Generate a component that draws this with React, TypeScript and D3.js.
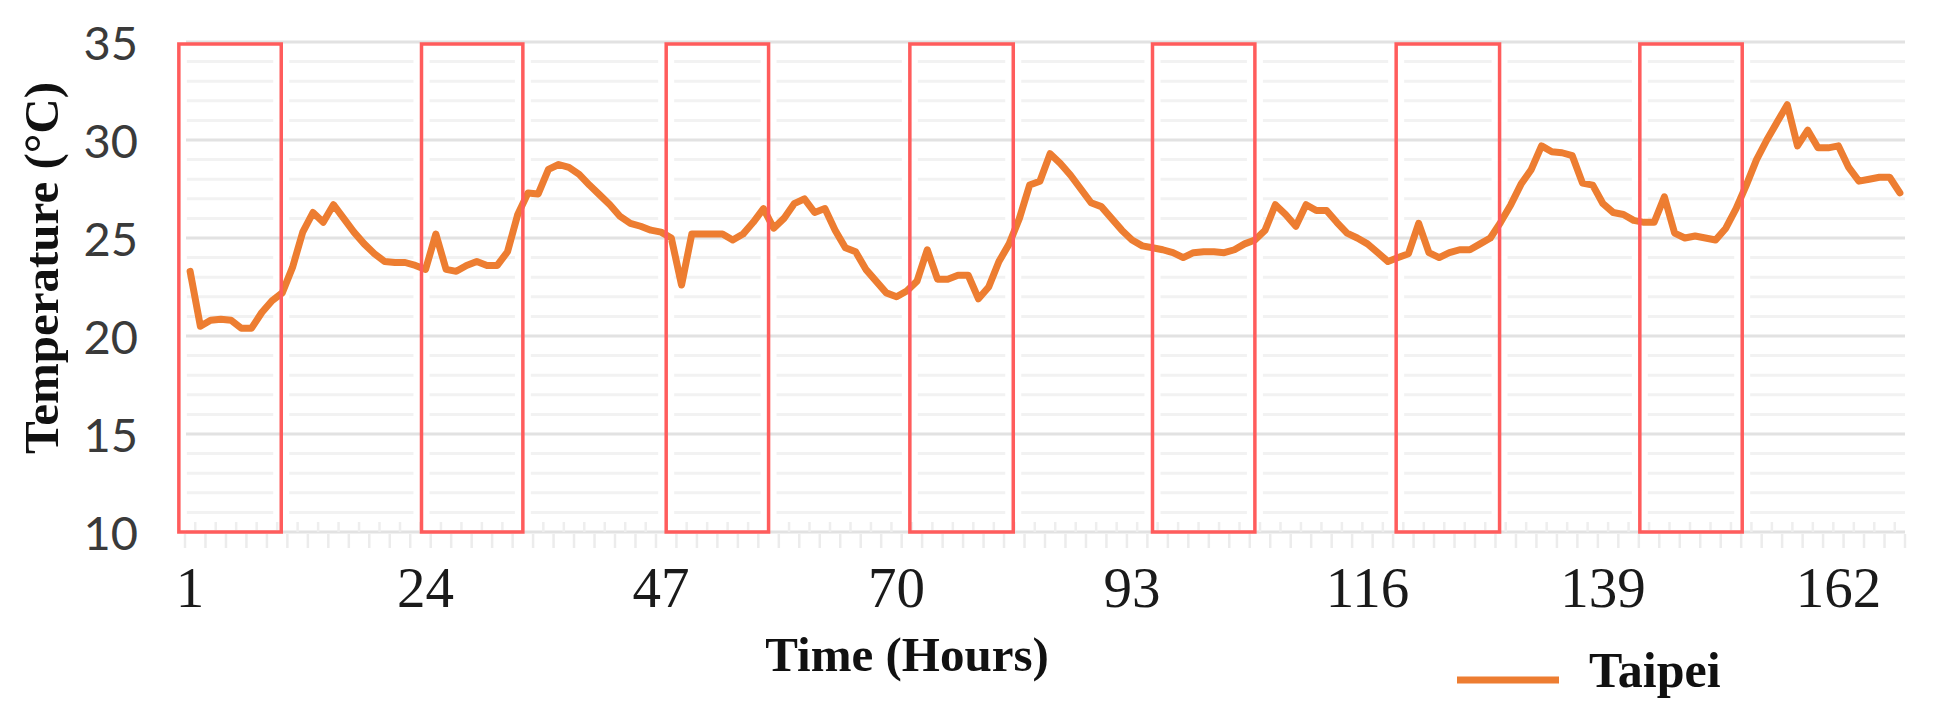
import React from "react";
import * as d3 from "d3";

const hours: number[] = d3.range(1, 169);

const taipei: number[] = [
  23.3, 20.5, 20.8, 20.85, 20.8, 20.4, 20.4, 21.2, 21.8, 22.2, 23.5, 25.3,
  26.3, 25.8, 26.7, 26.0, 25.3, 24.7, 24.2, 23.8, 23.75, 23.75, 23.6, 23.4,
  25.2, 23.4, 23.3, 23.6, 23.8, 23.6, 23.6, 24.3, 26.2, 27.3, 27.25, 28.5,
  28.75, 28.6, 28.25, 27.7, 27.2, 26.7, 26.1, 25.75, 25.6, 25.4, 25.3, 25.0,
  22.6, 25.2, 25.2, 25.2, 25.2, 24.9, 25.2, 25.8, 26.5, 25.5, 26.0, 26.75,
  27.0, 26.3, 26.5, 25.4, 24.5, 24.3, 23.4, 22.8, 22.2, 22.0, 22.3, 22.8,
  24.4, 22.9, 22.9, 23.1, 23.1, 21.9, 22.5, 23.8, 24.7, 26.0, 27.7, 27.9,
  29.3, 28.8, 28.2, 27.5, 26.8, 26.6, 26.0, 25.4, 24.9, 24.6, 24.5, 24.4,
  24.25, 24.0, 24.25, 24.3, 24.3, 24.25, 24.4, 24.7, 24.9, 25.4, 26.7, 26.2,
  25.6, 26.7, 26.4, 26.4, 25.8, 25.25, 25.0, 24.7, 24.25, 23.8, 24.0, 24.2,
  25.75, 24.25, 24.0, 24.25, 24.4, 24.4, 24.7, 25.0, 25.8, 26.7, 27.75, 28.5,
  29.7, 29.4, 29.35, 29.2, 27.8, 27.7, 26.75, 26.3, 26.2, 25.9, 25.8, 25.8,
  27.1, 25.25, 25.0, 25.1, 25.0, 24.9, 25.5, 26.5, 27.7, 29.0, 30.0, 30.9,
  31.8, 29.7, 30.5, 29.6, 29.6, 29.7, 28.6, 27.9, 28.0, 28.1, 28.1, 27.3,
];

const xTickLabels: number[] = [1, 24, 47, 70, 93, 116, 139, 162];
const yTickLabels: number[] = [10, 15, 20, 25, 30, 35];
const yMinorValues: number[] = [11, 12, 13, 14, 16, 17, 18, 19, 21, 22, 23, 24, 26, 27, 28, 29, 31, 32, 33, 34];

// highlighted (night) windows, in category-boundary units
const nightStart: number[] = [-0.6, 23.1, 47.0, 70.8, 94.5, 118.3, 142.1];
const nightEnd: number[] = [9.4, 33.0, 57.0, 80.9, 104.5, 128.4, 152.1];

const W = 1941;
const H = 708;
const PL = 185;
const PR = 1905;
const PT = 42;
const PB = 532;

const SERIF = '"Times New Roman", "Liberation Serif", "DejaVu Serif", serif';
const SANS = 'Lato, "Open Sans", "Liberation Sans", sans-serif';

export default function App() {
  const x = d3.scaleBand<number>().domain(hours).range([PL, PR]).padding(0);
  const bw = x.bandwidth();
  const xb = d3.scaleLinear().domain([0, hours.length]).range([PL, PR]);
  const y = d3.scaleLinear().domain([10, 35]).range([PB, PT]);

  const cx = (h: number) => (x(h) as number) + bw / 2;

  const line = d3
    .line<number>()
    .x((_, i) => cx(hours[i]))
    .y((d) => y(d))
    .curve(d3.curveLinear);

  const boundaries = d3.range(0, hours.length + 1);

  return (
    <svg
      width={W}
      height={H}
      viewBox={`0 0 ${W} ${H}`}
      style={{ position: "absolute", left: 0, top: 0, background: "#fff" }}
    >
      <rect x={0} y={0} width={W} height={H} fill="#fff" />
      {/* minor gridlines */}
      {yMinorValues.map((v) => (
        <line key={"mn" + v} x1={PL + 1} x2={PR} y1={y(v)} y2={y(v)} stroke="#f2f2f2" strokeWidth={3} />
      ))}
      {/* white halo around highlight edges */}
      {nightStart.map((s, i) => (
        <rect
          key={"halo" + i}
          x={xb(s)}
          y={y(35) + 2}
          width={xb(nightEnd[i]) - xb(s)}
          height={y(10) - y(35) - 2}
          fill="none"
          stroke="#fff"
          strokeWidth={16}
        />
      ))}
      {/* major gridlines */}
      {yTickLabels.map((v) => (
        <line key={"mj" + v} x1={PL + 1} x2={PR} y1={y(v)} y2={y(v)} stroke="#e2e2e2" strokeWidth={3} />
      ))}
      {/* x axis ticks */}
      {boundaries.map((k) =>
        k % 2 === 0 ? (
          <line key={"tk" + k} x1={xb(k)} x2={xb(k)} y1={PB + 2} y2={PB + 16} stroke="#ececec" strokeWidth={2.5} />
        ) : (
          <line key={"tk" + k} x1={xb(k)} x2={xb(k)} y1={PB - 10} y2={PB} stroke="#eeeeee" strokeWidth={2.5} />
        )
      )}
      {/* y tick labels */}
      {yTickLabels.map((v) => (
        <text
          key={"yl" + v}
          x={138}
          y={y(v)}
          textAnchor="end"
          dominantBaseline="central"
          fontFamily={SANS}
          fontSize={47}
          fill="#3a3a3a"
        >
          {v}
        </text>
      ))}
      {/* x tick labels */}
      {xTickLabels.map((h) => (
        <text
          key={"xl" + h}
          x={cx(h)}
          y={607}
          textAnchor="middle"
          fontFamily={SERIF}
          fontSize={57}
          fill="#1a1a1a"
        >
          {h}
        </text>
      ))}
      {/* series */}
      <path d={line(taipei) || ""} fill="none" stroke="#ED7D31" strokeWidth={7} strokeLinejoin="round" strokeLinecap="round" />
      {/* highlight rectangles */}
      {nightStart.map((s, i) => (
        <rect
          key={"nr" + i}
          x={xb(s)}
          y={y(35) + 2}
          width={xb(nightEnd[i]) - xb(s)}
          height={y(10) - y(35) - 2}
          fill="none"
          stroke="#ff5c5c"
          strokeWidth={3.5}
        />
      ))}
      {/* axis titles */}
      <text x={907} y={671} textAnchor="middle" fontFamily={SERIF} fontWeight="bold" fontSize={49} fill="#111">
        Time (Hours)
      </text>
      <text
        transform="translate(58,268) rotate(-90)"
        textAnchor="middle"
        fontFamily={SERIF}
        fontWeight="bold"
        fontSize={49}
        fill="#111"
      >
        Temperature (°C)
      </text>
      {/* legend */}
      <line x1={1457} x2={1559} y1={680} y2={680} stroke="#ED7D31" strokeWidth={7} />
      <text x={1589} y={687} fontFamily={SERIF} fontWeight="bold" fontSize={50} fill="#111">
        Taipei
      </text>
    </svg>
  );
}
